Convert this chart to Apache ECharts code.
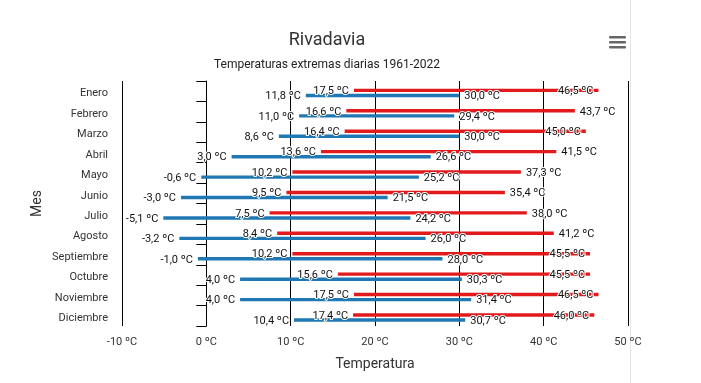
<!DOCTYPE html>
<html>
<head>
<meta charset="utf-8">
<script src="https://cdn.jsdelivr.net/npm/echarts@6/dist/echarts.min.js"></script>
<style>
html,body{margin:0;padding:0;background:#fff;}
#c{width:701px;height:383px;}
</style>
</head>
<body>
<div id="c"></div>
<script>
var months = ['Enero','Febrero','Marzo','Abril','Mayo','Junio','Julio','Agosto','Septiembre','Octubre','Noviembre','Diciembre'];
var maxLow  = [17.5, 16.6, 16.4, 13.6, 10.2, 9.5, 7.5, 8.4, 10.2, 15.6, 17.5, 17.4];
var maxHigh = [46.5, 43.7, 45.0, 41.5, 37.3, 35.4, 38.0, 41.2, 45.5, 45.5, 46.5, 46.0];
var minLow  = [11.8, 11.0, 8.6, 3.0, -0.6, -3.0, -5.1, -3.2, -1.0, 4.0, 4.0, 10.4];
var minHigh = [30.0, 29.4, 30.0, 26.6, 25.2, 21.5, 24.2, 26.0, 28.0, 30.3, 31.4, 30.7];
var xTicks = [-10, 0, 10, 20, 30, 40, 50];

function fmt(v){ return v.toFixed(1).replace('.', ',') + ' ºC'; }
var RED = '#e31a1c', BLUE = '#1f78b4';
var labelBase = {show:true, fontFamily:'Roboto', fontSize:11, color:'#111', textBorderColor:'#fff', textBorderWidth:2, distance:5, offset:[0,1]};

function baseData(lows){
  return lows.map(function(v){
    return {value:v, label:{position: v >= 0 ? 'insideRight' : 'left'}};
  });
}
function topData(lows, highs){
  return highs.map(function(h,i){
    return {value: +(h - lows[i]).toFixed(2), label:{position: h >= 45 ? 'insideRight' : 'right'}};
  });
}
var barCommon = {xAxisIndex:1, yAxisIndex:1, barWidth:3.4, barGap:'50%', silent:true, stackStrategy:'all'};
function bar(stack, data, color, src){
  return Object.assign({type:'bar', stack:stack, data:data, itemStyle:{color:color},
    label:Object.assign({}, labelBase, {formatter:function(p){return fmt(src[p.dataIndex]);}})}, barCommon);
}

var chart = echarts.init(document.getElementById('c'));
chart.setOption({
  animation:false,
  title:[
    {text:'Rivadavia', left:322, top:26, textAlign:'center', textStyle:{fontFamily:'Roboto', fontSize:18, fontWeight:'normal', color:'#333'}},
    {text:'Temperaturas extremas diarias 1961-2022', left:322, top:54, textAlign:'center', textStyle:{fontFamily:'Roboto', fontSize:12, fontWeight:'normal', color:'#222'}}
  ],
  grid:[
    {left:122, right:73, top:81, bottom:57, containLabel:false},
    {left:122, right:73, top:82.7, bottom:55.3, containLabel:false}
  ],
  xAxis:[{
    type:'value', min:xTicks[0], max:xTicks[xTicks.length-1], interval:10,
    name:'Temperatura', nameLocation:'middle', nameGap:31, nameMoveOverlap:false,
    nameTextStyle:{fontFamily:'Roboto', fontSize:14, color:'#333'},
    axisLine:{show:false}, axisTick:{show:false},
    axisLabel:{fontFamily:'Roboto', fontSize:11, color:'#333', margin:11, formatter:function(v){return v + ' ºC';}},
    splitLine:{show:true, lineStyle:{color:'#000', width:1}}
  },{
    type:'value', gridIndex:1, min:xTicks[0], max:xTicks[xTicks.length-1], interval:10, show:false,
    splitLine:{show:false}
  }],
  yAxis:[{
    type:'category', data:months, inverse:true,
    name:'Mes', nameLocation:'middle', nameGap:78, nameMoveOverlap:false,
    nameTextStyle:{fontFamily:'Roboto', fontSize:14, color:'#333'},
    axisLine:{show:true, lineStyle:{color:'#000'}},
    axisTick:{show:true, length:10, lineStyle:{color:'#000'}},
    axisLabel:{fontFamily:'Roboto', fontSize:11, color:'#333', margin:14, verticalAlign:'top', lineHeight:5},
    splitLine:{show:false}
  },{
    type:'category', gridIndex:1, data:months, inverse:true, show:false
  }],
  series:[
    bar('max', baseData(maxLow), 'transparent', maxLow),
    bar('max', topData(maxLow, maxHigh), RED, maxHigh),
    bar('min', baseData(minLow), 'transparent', minLow),
    bar('min', topData(minLow, minHigh), BLUE, minHigh)
  ],
  graphic:[
    {type:'rect', shape:{x:630, y:0, width:1, height:383}, style:{fill:'#e6e6e6'}, silent:true},
    {type:'rect', shape:{x:609, y:36, width:17, height:2.5, r:1}, style:{fill:'#666'}, silent:true},
    {type:'rect', shape:{x:609, y:41, width:17, height:2.5, r:1}, style:{fill:'#666'}, silent:true},
    {type:'rect', shape:{x:609, y:46, width:17, height:2.5, r:1}, style:{fill:'#666'}, silent:true}
  ]
});
</script>
</body>
</html>
